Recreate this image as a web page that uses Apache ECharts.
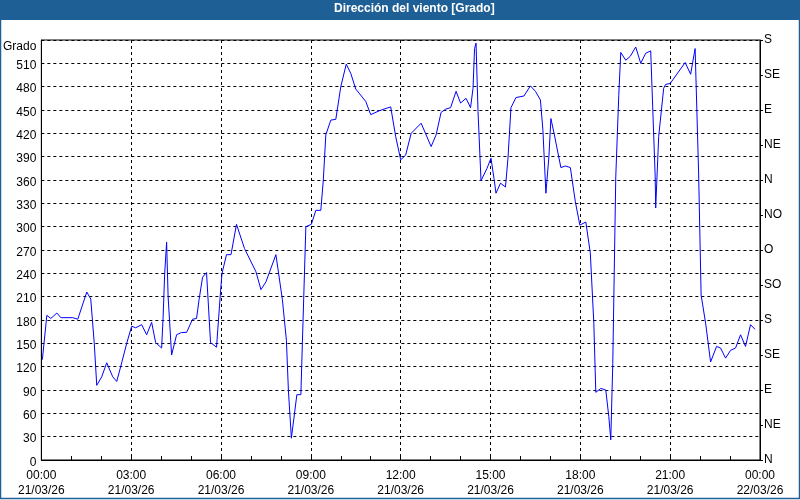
<!DOCTYPE html>
<html>
<head>
<meta charset="utf-8">
<script src="https://cdn.jsdelivr.net/npm/echarts@6/dist/echarts.min.js"></script>
<style>
  html, body { margin: 0; padding: 0; background: #fff; }
  #chart { width: 800px; height: 500px; }
</style>
</head>
<body>
<div id="chart"></div>
<script>
// minutes since 21/03/26 00:00
const minutes = [
  2, 11, 19, 31, 39, 63, 73, 91, 99, 106, 111, 121, 131, 143, 151, 159, 171, 181, 189, 201,
  211, 221, 229, 241, 244, 247, 251, 254, 261, 271, 281, 291, 303, 311, 316, 323, 331, 339, 351, 359,
  362, 371, 380, 391, 407, 430, 440, 450, 470, 483, 491, 495, 501, 512, 520, 523, 530, 541, 550, 560,
  565, 570, 580, 590, 600, 611, 620, 630, 650, 660, 677, 700, 710, 720,
  730, 741, 761, 781, 791, 801, 810, 820, 831, 840, 851, 860, 865, 868, 871, 875, 881, 893, 901, 907,
  911, 920, 930, 935, 941, 951, 967, 980, 990, 1000, 1005, 1011, 1017, 1021, 1028, 1041, 1050, 1060, 1070, 1079,
  1091, 1100, 1107, 1111, 1121, 1131, 1137, 1141, 1145, 1151, 1157, 1161, 1171, 1180, 1191, 1201, 1211, 1221, 1225, 1230,
  1231, 1237, 1247, 1251, 1260, 1290, 1301, 1310, 1317, 1322, 1331, 1341, 1353, 1361, 1371, 1381, 1391, 1401, 1411, 1421, 1430
];
// direccion del viento en grados
const grados = [
  129, 186, 182, 189, 183, 183, 181, 216, 207, 150, 96, 107, 125, 107, 101, 120, 150, 172, 170, 174,
  161, 177, 151, 144, 184, 238, 280, 210, 135, 161, 164, 164, 181, 182, 206, 235, 241, 151, 145, 216,
  240, 264, 264, 303, 272, 242, 219, 229, 264, 206, 154, 90, 28, 84, 84, 150, 300, 303, 321, 321,
  360, 418, 437, 438, 480, 509, 497, 477, 461, 444, 449, 454, 416, 386,
  392, 420, 433, 403, 418, 447, 451, 453, 474, 459, 465, 453, 478, 529, 536, 448, 359, 375, 388, 362,
  343, 356, 351, 388, 453, 466, 468, 481, 474, 463, 424, 343, 390, 439, 418, 376, 378, 376, 332, 302,
  306, 266, 176, 87, 92, 90, 56, 26, 124, 364, 469, 524, 514, 519, 531, 510, 523, 526, 454, 364,
  324, 416, 478, 483, 484, 511, 496, 529, 369, 212, 176, 126, 146, 144, 131, 141, 144, 161, 146, 174, 168
];
const compass = ['N', 'NE', 'E', 'SE', 'S', 'SO', 'O', 'NO', 'N', 'NE', 'E', 'SE', 'S'];

const FONT = "'Liberation Sans', Arial, sans-serif";
const BLUE_BAR = '#1e5f96';

const chart = echarts.init(document.getElementById('chart'));

const pad = (n) => (n < 10 ? '0' : '') + n;

const option = {
  animation: false,
  backgroundColor: '#fff',
  textStyle: { fontFamily: FONT },
  graphic: [
    {
      type: 'rect',
      shape: { x: 0, y: 0, width: 800, height: 20 },
      style: { fill: BLUE_BAR },
      silent: true,
      z: -1
    },
    {
      type: 'rect',
      shape: { x: 0.5, y: 0.5, width: 799, height: 498 },
      style: { fill: 'none', stroke: BLUE_BAR, lineWidth: 1.5 },
      silent: true
    }
  ],
  title: {
    text: 'Dirección del viento [Grado]',
    left: 334,
    top: 3,
    padding: 0,
    textStyle: { color: '#fff', fontSize: 12, fontWeight: 'bold', fontFamily: FONT }
  },
  grid: {
    left: 40,
    right: 40,
    top: 40,
    bottom: 40,
    show: true,
    borderColor: '#000',
    borderWidth: 1
  },
  xAxis: {
    type: 'value',
    min: 0,
    max: 1440,
    interval: 180,
    axisLine: { show: true, lineStyle: { color: '#000', width: 1 } },
    axisTick: { show: true, inside: true, length: 4, lineStyle: { color: '#000' } },
    minorTick: { show: true, splitNumber: 3, length: 4, lineStyle: { color: '#000' } },
    splitLine: { show: true, lineStyle: { color: '#000', type: [3, 3], width: 1 } },
    axisLabel: {
      color: '#000',
      fontSize: 12,
      lineHeight: 15,
      margin: 8,
      formatter: (v) => {
        const h = Math.floor(v / 60) % 24;
        const day = v >= 1440 ? '22/03/26' : '21/03/26';
        return pad(h) + ':00\n' + day;
      }
    }
  },
  yAxis: [
    {
      type: 'value',
      min: 0,
      max: 540,
      interval: 30,
      position: 'left',
      axisLine: { show: true, lineStyle: { color: '#000', width: 1 } },
      axisTick: { show: false },
      splitLine: { show: true, lineStyle: { color: '#000', type: [3, 3], width: 1 } },
      axisLabel: {
        color: '#000',
        fontSize: 12,
        margin: 5,
        padding: [5, 0, 0, 0],
        formatter: (v) => (v === 540 ? '{g|Grado}' : String(v)),
        rich: { g: { fontSize: 12, color: '#000', padding: [8, 0, 0, 0] } }
      }
    },
    {
      type: 'value',
      min: 0,
      max: 540,
      interval: 45,
      position: 'right',
      axisLine: { show: true, lineStyle: { color: '#000', width: 1 } },
      axisTick: { show: true, inside: false, length: 3, lineStyle: { color: '#000' } },
      splitLine: { show: false },
      axisLabel: {
        color: '#000',
        fontSize: 12,
        margin: 4,
        padding: [10, 0, 0, 0],
        formatter: (v) => compass[Math.round(v / 45)]
      }
    }
  ],
  series: [
    {
      type: 'line',
      yAxisIndex: 0,
      data: minutes.map((m, i) => [m, grados[i]]),
      showSymbol: false,
      symbol: 'none',
      lineStyle: { color: '#0000ff', width: 1 },
      clip: true
    }
  ]
};

chart.setOption(option);
</script>
</body>
</html>
